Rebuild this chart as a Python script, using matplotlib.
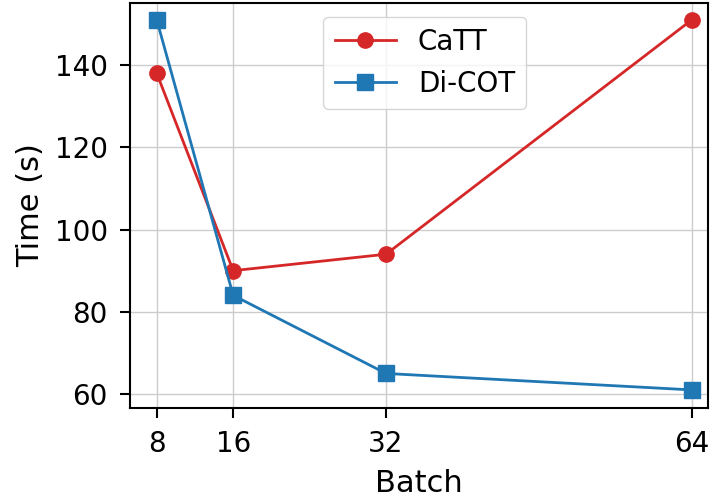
import numpy as np
import matplotlib
matplotlib.use("Agg")
import matplotlib.pyplot as plt

batch = [8, 16, 32, 64]
catt = [138, 90, 94, 151]
dicot = [151, 84, 65, 61]

plt.rcParams['font.size'] = 20

fig = plt.figure(figsize=(7.1, 4.99), dpi=100)
ax = fig.add_axes([130 / 710, 1 - 408 / 499, 578 / 710, 405 / 499])

ax.plot(batch, catt, color='#d62728', marker='o', markersize=11, linewidth=2, label='CaTT')
ax.plot(batch, dicot, color='#1f77b4', marker='s', markersize=11, linewidth=2, label='Di-COT')

ax.set_xticks(batch)
ax.set_yticks([60, 80, 100, 120, 140])
ax.set_xlim(5.2, 65.7)
ax.set_ylim(56.6, 155.1)
ax.set_xlabel('Batch', fontsize=22, labelpad=8)
ax.set_ylabel('Time (s)', fontsize=22, labelpad=7)
ax.grid(True, color='#cccccc', linewidth=1)
for s in ax.spines.values():
    s.set_linewidth(1.5)
ax.tick_params(width=1.5, length=7, pad=9)
ax.legend(loc='upper center', fontsize=20, handlelength=2.2,
          bbox_to_anchor=(0.51, 1.0))

fig.savefig('out.png', dpi=100)
